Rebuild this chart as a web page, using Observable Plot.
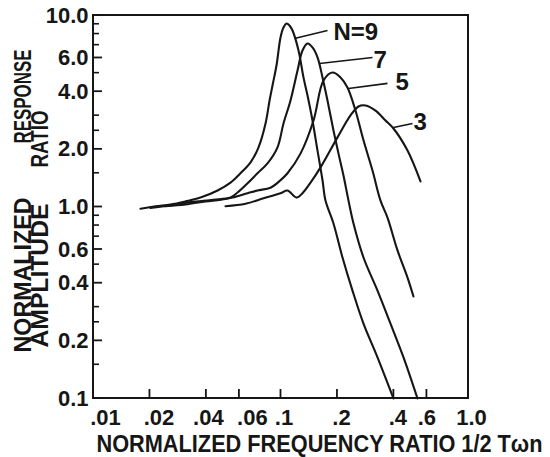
<!DOCTYPE html>
<html>
<head>
<meta charset="utf-8">
<script src="https://cdn.jsdelivr.net/npm/d3@7"></script>
<script src="https://cdn.jsdelivr.net/npm/@observablehq/plot@0.6"></script>
<style>
  html, body { margin: 0; padding: 0; background: #fff; }
</style>
</head>
<body>
<div id="chart"></div>
<script>
// Normalized frequency ratio 1/2Tωn and amplitude ratio for each order N
const freqN9 = [0.0178,0.0214,0.0257,0.0310,0.0372,0.0459,0.0538,0.0608,0.0688,0.0759,0.0827,0.0869,0.0901,0.0946,0.0994,0.1031,0.1070,0.1110,0.1152,0.1240,0.1318,0.1385,0.1472,0.1566,0.1665,0.1727,0.1905,0.2128,0.2406,0.2754,0.3271,0.398];
const ampN9  = [0.98,1.01,1.03,1.07,1.12,1.22,1.34,1.50,1.71,2.05,2.73,3.60,4.31,5.48,7.68,8.66,9.08,8.87,8.35,6.57,4.75,3.82,2.83,1.97,1.38,1.08,0.82,0.545,0.366,0.246,0.164,0.1];

const freqN7 = [0.0201,0.0257,0.0329,0.0437,0.0538,0.0586,0.0663,0.0749,0.0847,0.0958,0.1031,0.1124,0.1225,0.1302,0.1385,0.1472,0.1566,0.1665,0.1770,0.1905,0.2026,0.2154,0.2291,0.2436,0.2754,0.3271,0.3837,0.4502,0.5346];
const ampN7  = [0.99,1.02,1.06,1.09,1.12,1.19,1.33,1.50,1.69,2.05,2.73,3.60,5.16,6.57,7.14,6.81,6.04,4.75,3.60,2.51,1.90,1.46,1.08,0.82,0.545,0.366,0.246,0.164,0.1];

const freqN5 = [0.0242,0.0310,0.0396,0.0476,0.0551,0.0663,0.0749,0.0879,0.0994,0.1083,0.1270,0.1491,0.1685,0.1882,0.2077,0.2262,0.2496,0.2754,0.3076,0.3394,0.3698,0.4182,0.4729,0.5089];
const ampN5  = [1.01,1.03,1.07,1.09,1.12,1.18,1.22,1.26,1.38,1.50,1.90,2.83,4.58,5.04,4.75,4.21,3.19,2.23,1.55,1.08,0.88,0.593,0.428,0.341];

const freqN3 = [0.0506,0.0647,0.0807,0.0994,0.1083,0.1210,0.1302,0.1437,0.1625,0.2001,0.2348,0.2590,0.2823,0.3192,0.3609,0.3981,0.4729,0.5546];
const ampN3  = [1.01,1.04,1.11,1.18,1.22,1.12,1.18,1.34,1.61,2.31,3.01,3.35,3.39,3.19,2.83,2.57,1.97,1.36];

// Curve labels and their leader lines
const labelText = ["N=9", "7", "5", "3"];
const labelFreq = [0.1905, 0.3115, 0.4081, 0.5089];
const labelAmp  = [8.15, 5.82, 4.47, 2.76];
const leaderFreqFrom = [0.118, 0.1605, 0.2291, 0.3981];
const leaderAmpFrom  = [7.59, 5.62, 4.16, 2.60];
const leaderFreqTo   = [0.177, 0.3076, 0.3698, 0.5027];
const leaderAmpTo    = [8.35, 6.04, 4.42, 2.73];

// Axis ranges and ticks
const xDomain = [0.01, 1];
const yDomain = [0.1, 10];
const xTickValues = [0.01, 0.02, 0.04, 0.06, 0.1, 0.2, 0.4, 0.6, 1];
const xTickLabels = [".01", ".02", ".04", ".06", ".1", ".2", ".4", ".6", "1.0"];
const xTickMarks  = [0.02, 0.04, 0.06, 0.1, 0.2, 0.4, 0.6];
const yMajor       = [0.1, 0.2, 0.4, 0.6, 1, 2, 4, 6, 10];
const yMajorLabels = ["0.1", "0.2", "0.4", "0.6", "1.0", "2.0", "4.0", "6.0", "10.0"];
const yMinor       = [0.15, 0.25, 0.3, 0.5, 0.7, 0.8, 0.9, 1.5, 2.5, 3, 5, 7, 8, 9];

// hand-lettered tick labels sit a little off their ticks (pixels)
const xLabelNudge = [12, 9, 2, 13, 3, 4, 4, 0, 3];

const W = 550, H = 457;
const mL = 93, mR = 82, mT = 15, mB = 59;
const innerW = W - mL - mR, innerH = H - mT - mB;
const ink = "#161616";

// pixels per decade on each log axis, to turn a pixel length into a ratio
const xDecadePx = innerW / Math.log10(xDomain[1] / xDomain[0]);
const yDecadePx = innerH / Math.log10(yDomain[1] / yDomain[0]);
const xStretch = px => Math.pow(10, px / xDecadePx);
const yStretch = px => Math.pow(10, px / yDecadePx);

const series = [
  {n: "9", freq: freqN9, amp: ampN9},
  {n: "7", freq: freqN7, amp: ampN7},
  {n: "5", freq: freqN5, amp: ampN5},
  {n: "3", freq: freqN3, amp: ampN3}
];
const rows = series.flatMap(s => s.freq.map((f, i) => ({n: s.n, freq: f, amp: s.amp[i]})));
const leaders = labelText.map((t, i) => ({
  x1: leaderFreqFrom[i], y1: leaderAmpFrom[i], x2: leaderFreqTo[i], y2: leaderAmpTo[i]
}));
const labels = labelText.map((t, i) => ({text: t, freq: labelFreq[i], amp: labelAmp[i]}));

// border edges (2px bands) and tick stubs as filled strips
const [x0, x1] = xDomain, [y0, y1] = yDomain;
const half = 1;
const border = [
  {x1: x0 * xStretch(-half), x2: x1 * xStretch(half), y1: y0 * yStretch(-half), y2: y0 * yStretch(half)},
  {x1: x0 * xStretch(-half), x2: x1 * xStretch(half), y1: y1 * yStretch(-half), y2: y1 * yStretch(half)},
  {x1: x0 * xStretch(-half), x2: x0 * xStretch(half), y1: y0 * yStretch(-half), y2: y1 * yStretch(half)},
  {x1: x1 * xStretch(-half), x2: x1 * xStretch(half), y1: y0 * yStretch(-half), y2: y1 * yStretch(half)}
];
const ticks = [
  ...yMajor.map(v => ({x1: x0, x2: x0 * xStretch(9), y1: v * yStretch(-0.9), y2: v * yStretch(0.9)})),
  ...yMinor.map(v => ({x1: x0, x2: x0 * xStretch(6), y1: v * yStretch(-0.8), y2: v * yStretch(0.8)})),
  ...xTickMarks.map(v => ({x1: v * xStretch(-0.9), x2: v * xStretch(0.9), y1: y0, y2: y0 * yStretch(9)}))
];
const xTickRows = xTickValues.map((v, i) => ({v, label: xTickLabels[i], nudge: xLabelNudge[i]}));

const chart = Plot.plot({
  width: W,
  height: H,
  marginLeft: mL,
  marginRight: mR,
  marginTop: mT,
  marginBottom: mB,
  style: {
    background: "#fff",
    color: ink,
    fontFamily: "'Liberation Sans', Arial, sans-serif",
    fontWeight: "bold"
  },
  x: {type: "log", domain: xDomain, axis: null},
  y: {type: "log", domain: yDomain, axis: null},
  marks: [
    // plot border and tick marks
    Plot.rect(border, {x1: "x1", x2: "x2", y1: "y1", y2: "y2", fill: ink}),
    Plot.rect(ticks, {x1: "x1", x2: "x2", y1: "y1", y2: "y2", fill: ink}),
    // tick labels
    Plot.text(yMajor, {
      y: d => d, text: (d, i) => yMajorLabels[i],
      frameAnchor: "left", textAnchor: "end", lineAnchor: "middle",
      dx: -5, fontSize: 22, fill: ink
    }),
    ...xTickRows.map(t => Plot.text([t], {
      x: "v", text: "label",
      frameAnchor: "bottom", textAnchor: "middle", lineAnchor: "bottom",
      dx: t.nudge, dy: 26, fontSize: 22, fill: ink
    })),
    // axis titles
    Plot.text(["NORMALIZED FREQUENCY RATIO 1/2 Tωn"], {
      frameAnchor: "bottom-left", textAnchor: "start", lineAnchor: "bottom",
      dx: 3, dy: 53, fontSize: 24, fill: ink
    }),
    Plot.text(["NORMALIZED"], {
      frameAnchor: "top-left", rotate: -90, textAnchor: "start", lineAnchor: "middle",
      dx: 23 - mL, dy: 352 - mT, fontSize: 23, fill: ink
    }),
    Plot.text(["RESPONSE"], {
      frameAnchor: "top-left", rotate: -90, textAnchor: "start", lineAnchor: "middle",
      dx: 23 - mL, dy: 143 - mT, fontSize: 23, fill: ink
    }),
    Plot.text(["AMPLITUDE"], {
      frameAnchor: "top-left", rotate: -90, textAnchor: "start", lineAnchor: "middle",
      dx: 40 - mL, dy: 347 - mT, fontSize: 23, fill: ink
    }),
    Plot.text(["RATIO"], {
      frameAnchor: "top-left", rotate: -90, textAnchor: "start", lineAnchor: "middle",
      dx: 40 - mL, dy: 167 - mT, fontSize: 23, fill: ink
    }),
    // response curves, leaders and curve labels
    Plot.line(rows, {
      x: "freq", y: "amp", z: "n",
      curve: "catmull-rom", stroke: ink, strokeWidth: 2.1
    }),
    Plot.link(leaders, {x1: "x1", y1: "y1", x2: "x2", y2: "y2", stroke: ink, strokeWidth: 1.6}),
    Plot.text(labels, {
      x: "freq", y: "amp", text: "text",
      textAnchor: "start", lineAnchor: "middle", fontSize: 24, fill: ink
    })
  ]
});

// condensed lettering for the axis titles
const titleLengths = {
  "NORMALIZED FREQUENCY RATIO 1/2 Tωn": 446,
  "NORMALIZED": 155,
  "RESPONSE": 94,
  "AMPLITUDE": 144,
  "RATIO": 57
};
d3.select(chart).selectAll("text").each(function () {
  const len = titleLengths[this.textContent];
  if (len) {
    this.setAttribute("textLength", len);
    this.setAttribute("lengthAdjust", "spacingAndGlyphs");
  }
});

document.getElementById("chart").appendChild(chart);
</script>
</body>
</html>
